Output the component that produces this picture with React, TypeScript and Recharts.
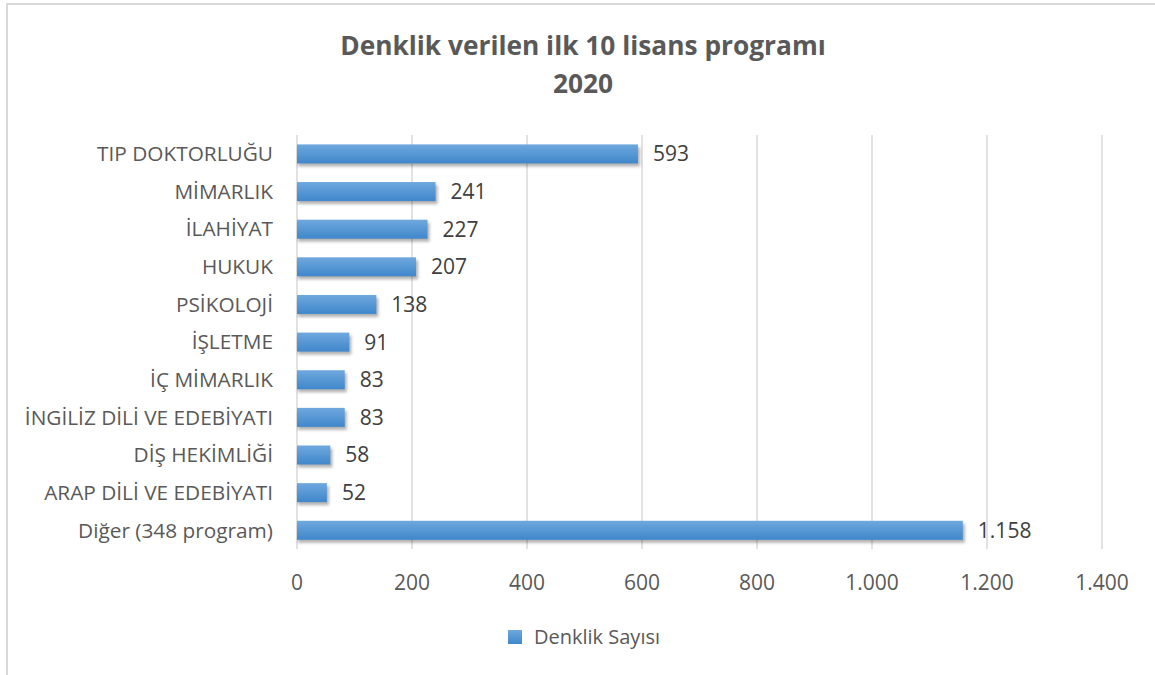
import { BarChart, Bar, XAxis, YAxis, CartesianGrid, Legend, LabelList } from 'recharts'

const programs = [
    'TIP DOKTORLUĞU',
    'MİMARLIK',
    'İLAHİYAT',
    'HUKUK',
    'PSİKOLOJİ',
    'İŞLETME',
    'İÇ MİMARLIK',
    'İNGİLİZ DİLİ VE EDEBİYATI',
    'DİŞ HEKİMLİĞİ',
    'ARAP DİLİ VE EDEBİYATI',
    'Diğer (348 program)',
]
const counts = [593, 241, 227, 207, 138, 91, 83, 83, 58, 52, 1158]
const xTicks = [0, 200, 400, 600, 800, 1000, 1200, 1400]

const seriesName = 'Denklik Sayısı'
const titleLines = ['Denklik verilen ilk 10 lisans programı', '2020']

const data = programs.map((name, i) => ({ name, value: counts[i] }))

// Turkish thousands separator: 1.158
const fmt = (v: number) => String(v).replace(/\B(?=(\d{3})+(?!\d))/g, '.')

const FONT = '"Open Sans", "DejaVu Sans", sans-serif'

// bar with a soft shadow underneath, like the Excel original
const ShadowBar = (props: any) => {
    const x = Number(props.x)
    const y = Number(props.y)
    const w = Number(props.width)
    const h = Number(props.height)
    if (!(w > 0) || !(h > 0)) return <g />
    return (
        <g>
            <rect x={x + 1} y={y + 3} width={w + 1} height={h} fill="#000" opacity={0.3} filter="url(#barBlur)" />
            <rect x={x} y={y} width={w} height={h} fill="url(#barFill) #5b9bd5" />
        </g>
    )
}

const LegendContent = () => (
    <div
        style={{
            display: 'flex',
            justifyContent: 'center',
            alignItems: 'center',
            paddingLeft: 66,
            fontFamily: FONT,
            fontSize: 20,
            color: '#595959',
        }}
    >
        <span
            style={{
                display: 'inline-block',
                width: 14,
                height: 14,
                marginRight: 12,
                background: 'linear-gradient(#6fa8de, #3f87cb)',
            }}
        />
        <span>{seriesName}</span>
    </div>
)

export default function App() {
    return (
        <div
            style={{
                position: 'absolute',
                left: 0,
                top: 0,
                width: 1155,
                height: 675,
                overflow: 'hidden',
                background: '#fff',
                fontFamily: FONT,
            }}
        >
            <svg width={1} height={1} style={{ position: 'absolute', left: 0, top: 0 }}>
                <defs>
                    <linearGradient id="barFill" x1="0" y1="0" x2="0" y2="1">
                        <stop offset="0%" stopColor="#6fa8de" />
                        <stop offset="100%" stopColor="#3f87cb" />
                    </linearGradient>
                    <filter id="barBlur" x="-10%" y="-60%" width="120%" height="220%">
                        <feGaussianBlur stdDeviation="1.8" />
                    </filter>
                </defs>
            </svg>
            <div
                style={{
                    position: 'absolute',
                    left: 6,
                    top: 3,
                    width: 1200,
                    height: 800,
                    border: '2px solid #d9d9d9',
                }}
            />
            <div
                style={{
                    position: 'absolute',
                    left: 0,
                    top: 26,
                    width: 1166,
                    textAlign: 'center',
                    fontWeight: 700,
                    fontSize: 26.3,
                    lineHeight: '38px',
                    color: '#595959',
                }}
            >
                {titleLines.map((t) => (
                    <div key={t}>{t}</div>
                ))}
            </div>
            <div style={{ position: 'absolute', left: 0, top: 0 }}>
                <BarChart
                    width={1155}
                    height={675}
                    data={data}
                    layout="vertical"
                    margin={{ top: 135, right: 53, left: 0, bottom: 25 }}
                    barCategoryGap="25%"
                >
                    <CartesianGrid horizontal={false} stroke="#d9d9d9" strokeWidth={1.5} />
                    <XAxis
                        type="number"
                        domain={[0, 1400]}
                        ticks={xTicks}
                        tickFormatter={fmt}
                        axisLine={false}
                        tickLine={false}
                        height={74}
                        tickMargin={20}
                        tick={{ fill: '#595959', fontSize: 21, fontFamily: FONT }}
                        interval={0}
                    />
                    <YAxis
                        type="category"
                        dataKey="name"
                        width={297}
                        axisLine={false}
                        tickLine={false}
                        tickMargin={18}
                        interval={0}
                        tick={{ fill: '#595959', fontSize: 20.8, fontFamily: FONT }}
                    />
                    <Legend verticalAlign="bottom" align="center" content={<LegendContent />} />
                    <Bar dataKey="value" name={seriesName} fill="#5b9bd5" shape={ShadowBar} isAnimationActive={false}>
                        <LabelList
                            dataKey="value"
                            position="right"
                            offset={15}
                            formatter={(v: number) => fmt(v)}
                            style={{ fill: '#404040', fontSize: 21, fontFamily: FONT }}
                        />
                    </Bar>
                </BarChart>
            </div>
        </div>
    )
}
